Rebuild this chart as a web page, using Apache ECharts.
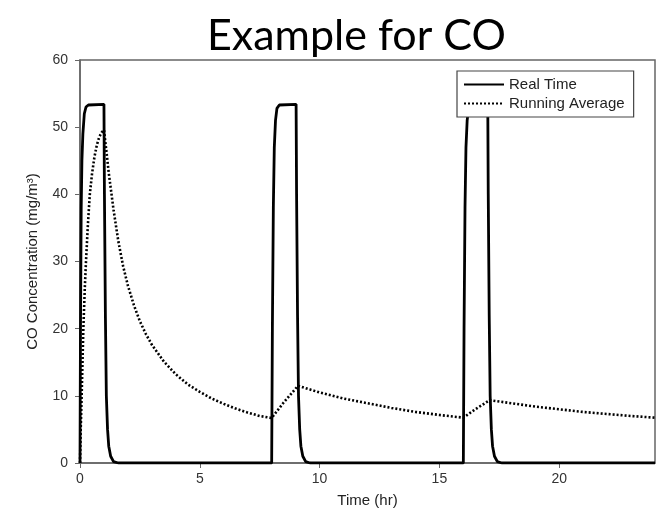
<!DOCTYPE html>
<html>
<head>
<meta charset="utf-8">
<script src="https://cdn.jsdelivr.net/npm/echarts@6/dist/echarts.min.js"></script>
<style>
  html, body { margin: 0; padding: 0; background: #fff; }
  #main { width: 658px; height: 522px; }
</style>
</head>
<body>
<div id="main"></div>
<script>
// real time concentration, three one-hour exposures
const realTimeHours = [
  0, 0.02, 0.05, 0.08, 0.12, 0.18, 0.25, 0.35, 1.0, 1.02, 1.06, 1.1, 1.15, 1.2, 1.28, 1.4, 1.6,
  8.0, 8.03, 8.07, 8.11, 8.16, 8.22, 8.32, 9.02, 9.04, 9.08, 9.12, 9.17, 9.22, 9.3, 9.42, 9.6,
  16.0, 16.03, 16.07, 16.11, 16.16, 16.22, 16.32, 17.02, 17.04, 17.08, 17.12, 17.17, 17.22, 17.3, 17.42, 17.6,
  24
];
const realTimeValues = [
  0, 20, 38, 45, 49, 52, 53, 53.3, 53.4, 40, 22, 10, 5, 2.5, 1, 0.2, 0,
  0, 20, 38, 47, 51, 52.8, 53.3, 53.4, 40, 22, 10, 5, 2.5, 1, 0.2, 0,
  0, 20, 38, 47, 51, 52.8, 53.3, 53.4, 40, 22, 10, 5, 2.5, 1, 0.2, 0,
  0
];

// running average
const avgHours = [
  0, 0.03, 0.07, 0.14, 0.2, 0.25, 0.33, 0.41, 0.5, 0.6, 0.7, 0.8, 0.9, 1.0,
  1.1, 1.2, 1.4, 1.6, 1.8, 2.0, 2.25, 2.5, 2.75, 3.0, 3.5, 4.0, 4.5, 5.0, 5.5, 6.0, 6.5, 7.0, 7.5, 8.0,
  8.5, 9.1, 10, 11, 12, 13, 14, 15, 16,
  16.5, 17.1, 18, 19, 20, 21, 22, 23, 24
];
const avgValues = [
  0, 5, 10, 20, 26, 30, 35.5, 40, 43, 45.5, 47.3, 48.5, 49.2, 49.6,
  46.5, 43.2, 37.7, 33, 29.3, 26.4, 23.5, 21.1, 19.2, 17.6, 15.1, 13.2, 11.7, 10.6, 9.6, 8.8, 8.1, 7.5, 7.0, 6.7,
  9.0, 11.5, 10.5, 9.6, 8.9, 8.2, 7.6, 7.15, 6.75,
  8.0, 9.35, 8.9, 8.4, 8.0, 7.6, 7.3, 7.0, 6.75
];

const yTicks = [0, 10, 20, 30, 40, 50, 60];
const xTicks = [0, 5, 10, 15, 20];

const zip = (xs, ys) => xs.map((x, i) => [x, ys[i]]);

const chart = echarts.init(document.getElementById('main'));
chart.setOption({
  animation: false,
  backgroundColor: '#fff',
  title: {
    text: 'Example for CO',
    left: 202,
    top: 10,
    textStyle: { fontFamily: 'Lato', fontSize: 43, fontWeight: 'normal', color: '#000' },
  },
  grid: {
    left: 80,
    right: 3,
    top: 60,
    bottom: 59,
    show: true,
    borderColor: '#666',
    borderWidth: 1.5,
  },
  legend: {
    orient: 'vertical',
    left: 457,
    top: 71,
    padding: [6, 9, 6, 6],
    itemGap: 4,
    itemWidth: 40,
    itemHeight: 14,
    borderColor: '#444',
    borderWidth: 1.2,
    backgroundColor: '#fff',
    itemStyle: { opacity: 0 },
    textStyle: { fontFamily: 'Liberation Sans', fontSize: 15, color: '#222' },
    data: ['Real Time', 'Running Average'],
  },
  xAxis: {
    type: 'value',
    min: 0,
    max: 24,
    interval: 5,
    name: 'Time (hr)',
    nameLocation: 'middle',
    nameGap: 30,
    nameTextStyle: { fontFamily: 'Liberation Sans', fontSize: 15, color: '#222' },
    axisLine: { lineStyle: { color: '#666', width: 1.5 } },
    axisTick: { inside: false, length: 5, lineStyle: { color: '#666' } },
    axisLabel: {
      showMaxLabel: false,
      margin: 9,
      fontFamily: 'Liberation Sans',
      fontSize: 14,
      color: '#333',
      formatter: (v) => (xTicks.includes(v) ? String(v) : ''),
    },
    splitLine: { show: false },
  },
  yAxis: {
    type: 'value',
    min: 0,
    max: 60,
    interval: 10,
    name: 'CO Concentration (mg/m³)',
    nameLocation: 'middle',
    nameGap: 40,
    nameTextStyle: { fontFamily: 'Liberation Sans', fontSize: 15, color: '#222' },
    axisLine: { show: true, lineStyle: { color: '#666', width: 1.5 } },
    axisTick: { show: true, inside: false, length: 5, lineStyle: { color: '#666' } },
    axisLabel: {
      margin: 12,
      fontFamily: 'Liberation Sans',
      fontSize: 14,
      color: '#333',
      formatter: (v) => (yTicks.includes(v) ? String(v) : ''),
    },
    splitLine: { show: false },
  },
  series: [
    {
      name: 'Real Time',
      type: 'line',
      symbol: 'none',
      z: 3,
      data: zip(realTimeHours, realTimeValues),
      lineStyle: { color: '#000', width: 2.8 },
      itemStyle: { color: '#000' },
    },
    {
      name: 'Running Average',
      type: 'line',
      symbol: 'none',
      z: 2,
      data: zip(avgHours, avgValues),
      lineStyle: { color: '#000', width: 2.6, type: [2, 2] },
      itemStyle: { color: '#000' },
    },
  ],
});
</script>
</body>
</html>
